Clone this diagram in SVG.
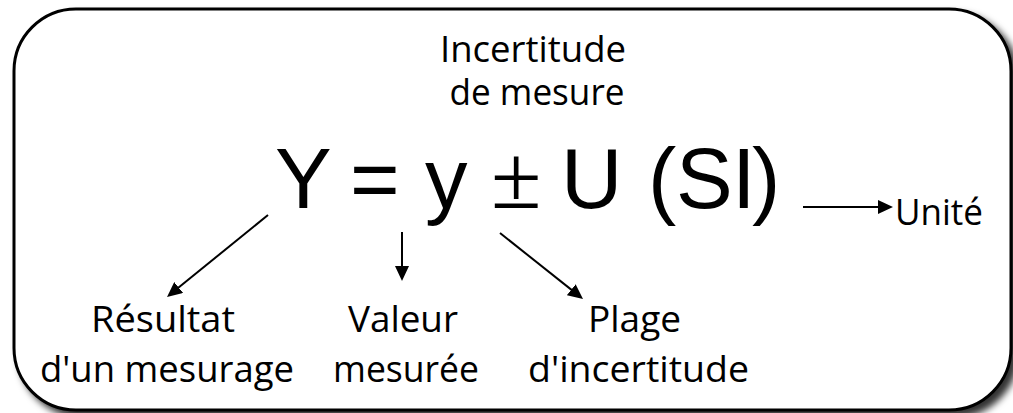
<svg xmlns="http://www.w3.org/2000/svg" width="1013" height="413" viewBox="0 0 1013 413">
  <defs>
    <filter id="shadow" x="-5%" y="-5%" width="115%" height="120%">
      <feDropShadow dx="6" dy="6" stdDeviation="3.5" flood-color="#000" flood-opacity="0.8"/>
    </filter>
    <marker id="arrow" markerUnits="userSpaceOnUse" viewBox="0 0 15 14" markerWidth="15" markerHeight="14" refX="10" refY="7" orient="auto">
      <path d="M0,0 L15,7 L0,14 z" fill="#000"/>
    </marker>
    <style>
      .lbl { font-family: "Open Sans", "Liberation Sans", sans-serif; font-size: 37px; fill: #000; text-anchor: middle; }
      .formula { font-family: "Liberation Sans", Arial, sans-serif; font-size: 85px; fill: #000; }
      .pm { font-family: "Liberation Serif", "Times New Roman", serif; font-size: 92px; }
      .conn { stroke: #000; stroke-width: 2; fill: none; marker-end: url(#arrow); }
    </style>
  </defs>
  <rect width="1013" height="413" fill="#fff"/>
  <g id="frame">
    <rect x="14" y="9" width="997" height="401" rx="62" ry="62" fill="#fff" stroke="#000" stroke-width="3" filter="url(#shadow)"/>
  </g>
  <g id="title">
    <text class="lbl"><tspan x="533" y="62" textLength="186" lengthAdjust="spacingAndGlyphs">Incertitude</tspan><tspan x="537" y="105" textLength="175" lengthAdjust="spacingAndGlyphs">de mesure</tspan></text>
  </g>
  <g id="formula">
    <text class="formula" y="208"><tspan x="275 350 425">Y=y</tspan><tspan class="pm" x="491">±</tspan><tspan x="561 648 676 732 752">U(SI)</tspan></text>
  </g>
  <g id="connectors">
    <line class="conn" x1="268" y1="215" x2="170.9" y2="293.8"/>
    <line class="conn" x1="402" y1="232" x2="402" y2="276"/>
    <line class="conn" x1="500" y1="233" x2="579.1" y2="295.9"/>
    <line class="conn" x1="803" y1="207" x2="888" y2="207"/>
  </g>
  <g id="node-resultat">
    <text class="lbl"><tspan x="163" y="332" textLength="144" lengthAdjust="spacingAndGlyphs">Résultat</tspan><tspan x="167" y="382" textLength="254" lengthAdjust="spacingAndGlyphs">d'un mesurage</tspan></text>
  </g>
  <g id="node-valeur">
    <text class="lbl"><tspan x="403" y="332" textLength="110" lengthAdjust="spacingAndGlyphs">Valeur</tspan><tspan x="406" y="382" textLength="146" lengthAdjust="spacingAndGlyphs">mesurée</tspan></text>
  </g>
  <g id="node-plage">
    <text class="lbl"><tspan x="634.5" y="332" textLength="93" lengthAdjust="spacingAndGlyphs">Plage</tspan><tspan x="638.5" y="382" textLength="221" lengthAdjust="spacingAndGlyphs">d'incertitude</tspan></text>
  </g>
  <g id="node-unite">
    <text class="lbl" x="939" y="225" textLength="88" lengthAdjust="spacingAndGlyphs">Unité</text>
  </g>
</svg>
